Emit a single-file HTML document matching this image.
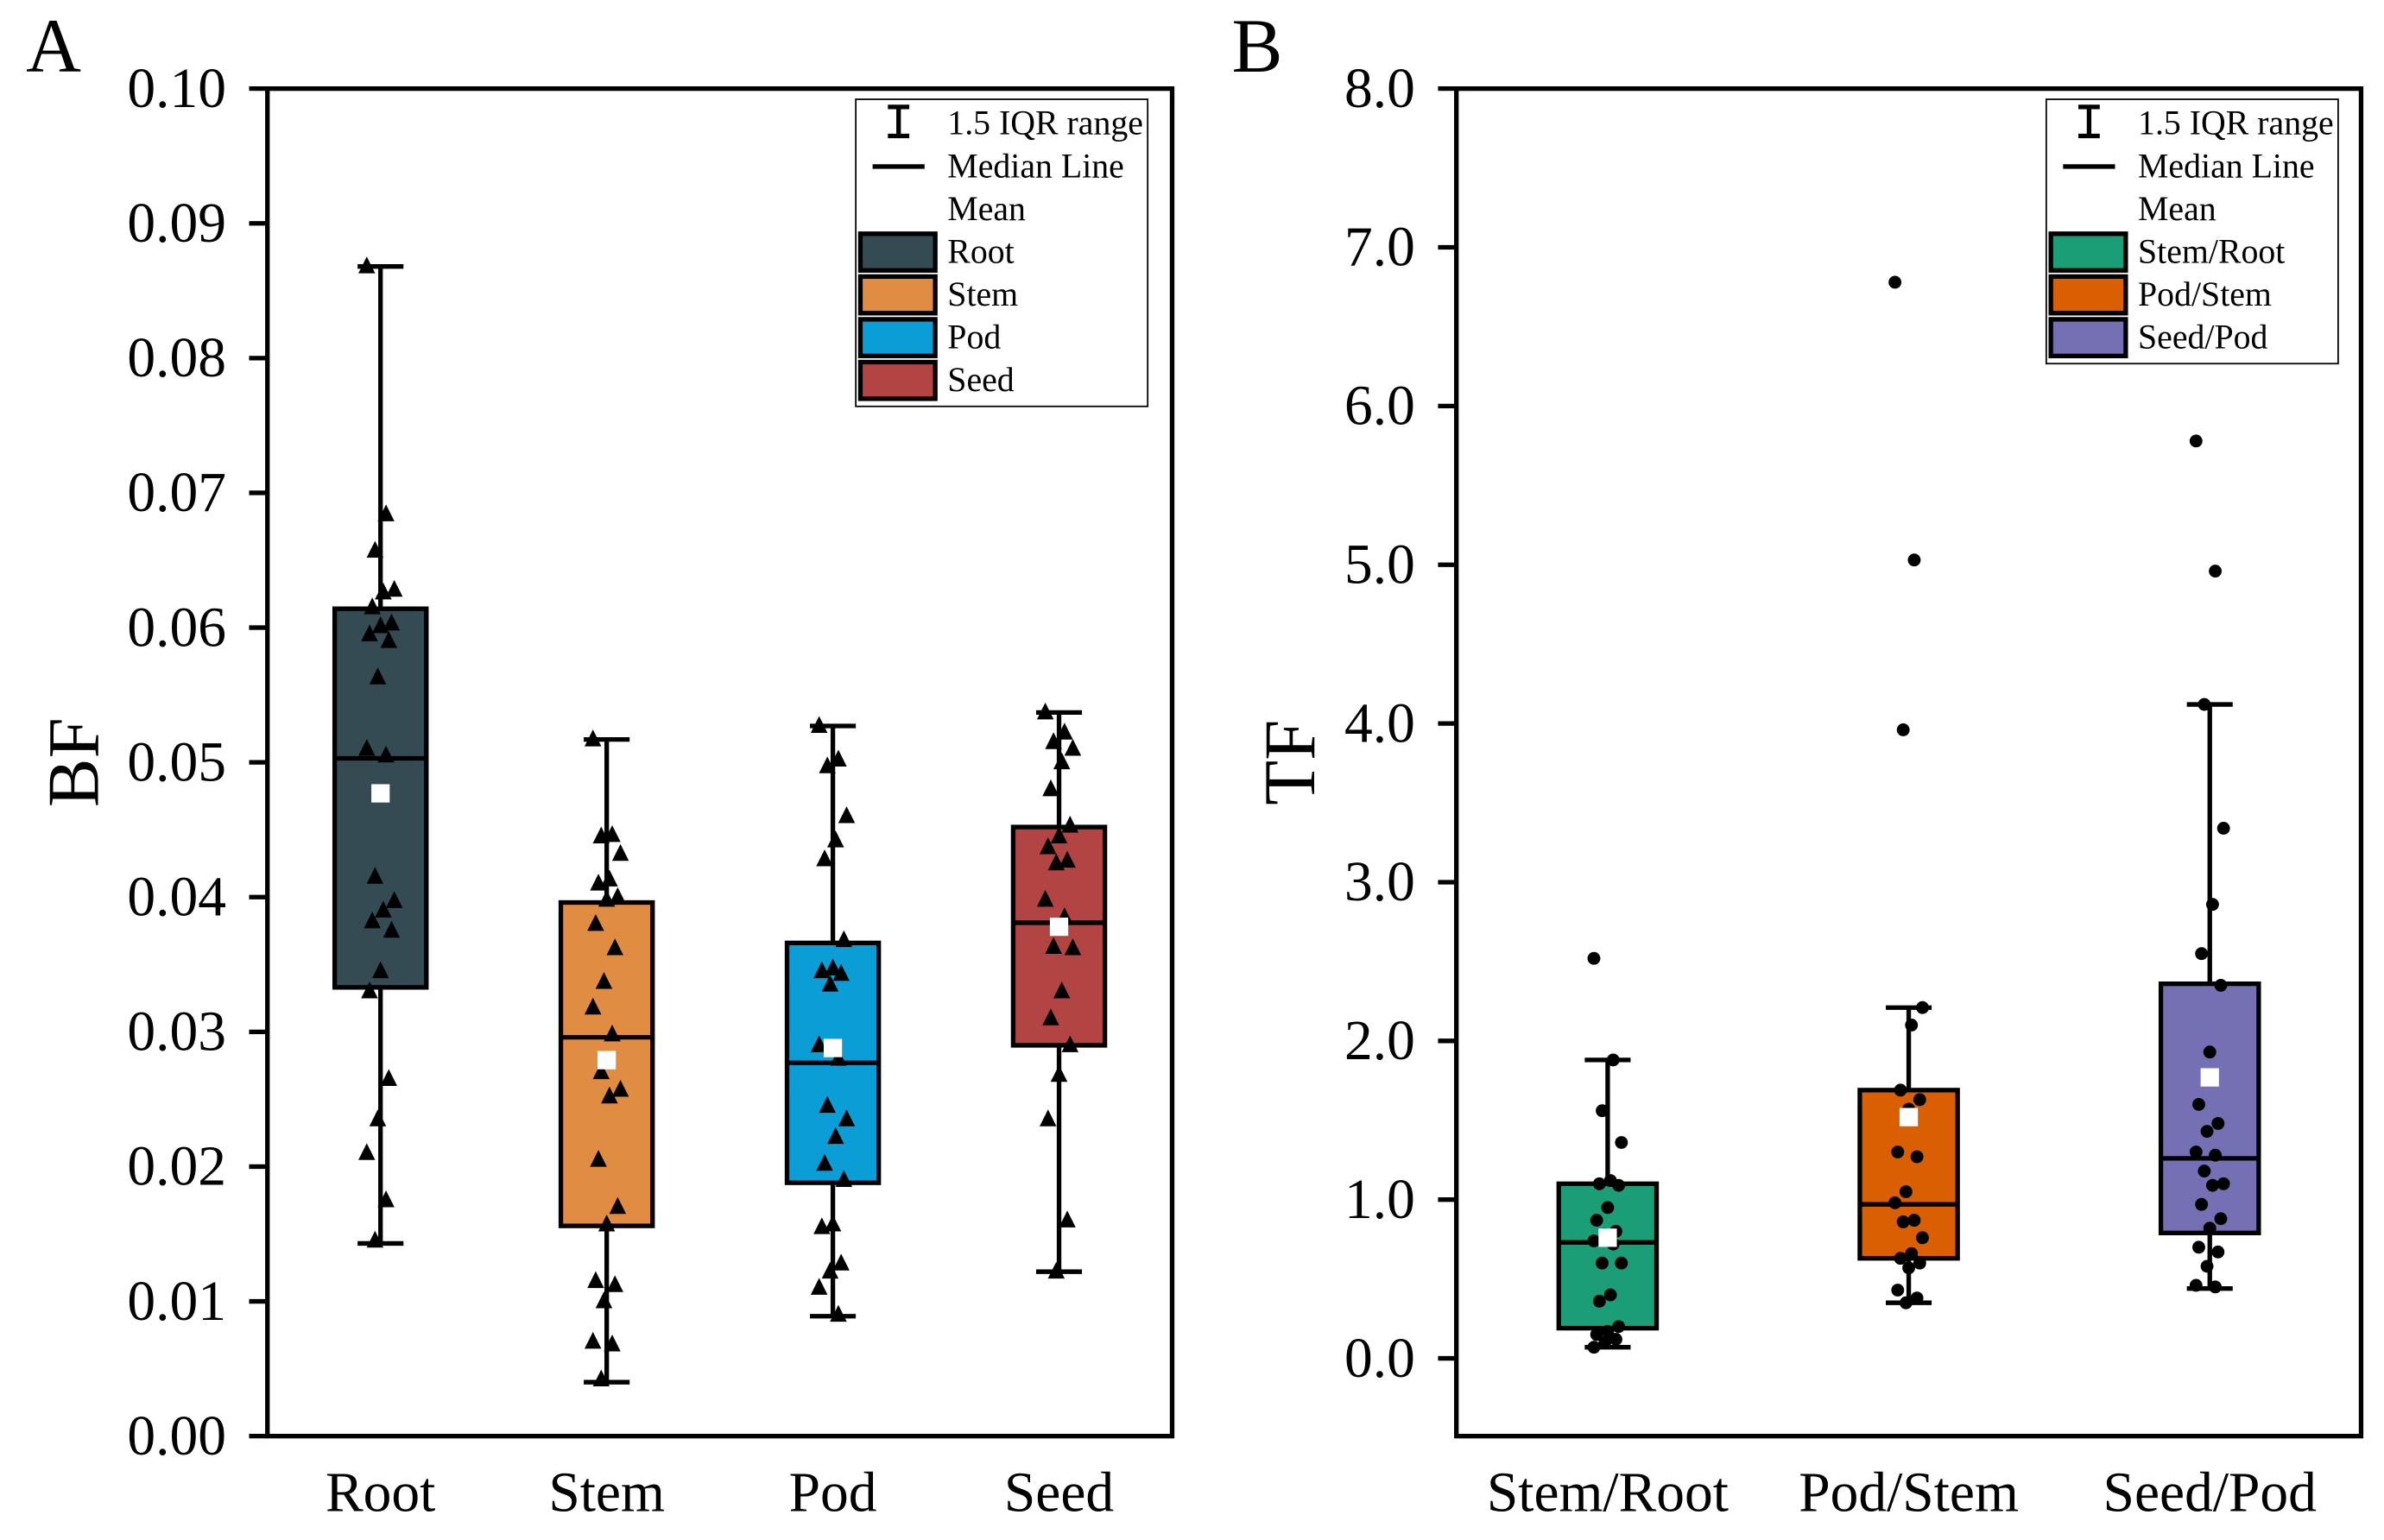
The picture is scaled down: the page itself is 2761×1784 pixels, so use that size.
<!DOCTYPE html>
<html><head><meta charset="utf-8"><style>
html,body{margin:0;padding:0;background:#fff}
svg{display:block}
text{font-family:"Liberation Serif",serif;fill:#000}
</style></head><body>
<svg id="fig" width="2761" height="1784" viewBox="0 0 1560 1008" preserveAspectRatio="none" xmlns="http://www.w3.org/2000/svg">
<rect width="1560" height="1008" fill="#fff"/>
</svg>
<script>
// Panel A data (BF)
const catsA = ["Root","Stem","Pod","Seed"];
const colorsA = ["#344b53","#e08c43","#0a9dd6","#b24443"];
const q1A = [0.0333,0.0156,0.0188,0.0290];
const medA = [0.0503,0.0296,0.0277,0.0381];
const q3A = [0.0614,0.0396,0.0366,0.0452];
const loA = [0.0143,0.0040,0.0089,0.0122];
const hiA = [0.0868,0.0517,0.0527,0.0537];
const meanA = [0.0477,0.0279,0.0288,0.0378];
const ptsRoot = [0.0868,0.0684,0.0657,0.0628,0.0626,0.0615,0.0603,0.0601,0.0595,0.0590,0.0563,0.0510,0.0505,0.0415,0.0397,0.0390,0.0382,0.0375,0.0345,0.0330,0.0265,0.0235,0.0210,0.0175,0.0145];
const ptsStem = [0.0517,0.0446,0.0445,0.0432,0.0413,0.0410,0.0400,0.0398,0.0380,0.0362,0.0337,0.0318,0.0298,0.0270,0.0257,0.0252,0.0205,0.0170,0.0157,0.0115,0.0112,0.0100,0.0070,0.0068,0.0042];
const ptsPod = [0.0527,0.0502,0.0497,0.0460,0.0442,0.0428,0.0368,0.0347,0.0345,0.0343,0.0335,0.0290,0.0280,0.0245,0.0235,0.0222,0.0202,0.0190,0.0157,0.0155,0.0128,0.0122,0.0110,0.0090];
const ptsSeed = [0.0537,0.0522,0.0515,0.0510,0.0500,0.0480,0.0453,0.0445,0.0437,0.0427,0.0425,0.0398,0.0385,0.0363,0.0362,0.0330,0.0310,0.0290,0.0268,0.0235,0.0160,0.0122];
const ticksA = ["0.00","0.01","0.02","0.03","0.04","0.05","0.06","0.07","0.08","0.09","0.10"];
// Panel B data (TF)
const catsB = ["Stem/Root","Pod/Stem","Seed/Pod"];
const colorsB = ["#1b9e77","#d95f02","#7570b3"];
const q1B = [0.19,0.63,0.79];
const medB = [0.73,0.97,1.26];
const q3B = [1.10,1.69,2.36];
const loB = [0.07,0.35,0.44];
const hiB = [1.88,2.21,4.12];
const meanB = [0.76,1.52,1.77];
const ptsSR = [2.52,1.88,1.56,1.36,1.12,1.10,1.09,0.95,0.87,0.80,0.78,0.74,0.72,0.60,0.60,0.40,0.36,0.20,0.17,0.15,0.12,0.10,0.07];
const ptsPS = [6.78,5.03,3.96,2.21,2.10,1.69,1.63,1.57,1.30,1.27,1.05,0.98,0.87,0.86,0.76,0.66,0.63,0.60,0.57,0.43,0.38,0.35];
const ptsSP = [5.78,4.96,4.12,3.34,2.86,2.55,2.35,1.93,1.60,1.48,1.43,1.30,1.28,1.18,1.10,1.09,0.97,0.88,0.82,0.70,0.67,0.58,0.46,0.45];
const ticksB = ["0.0","1.0","2.0","3.0","4.0","5.0","6.0","7.0","8.0"];

const NS="http://www.w3.org/2000/svg";
const svg=document.getElementById('fig');
function mk(tag,attrs,parent){const e=document.createElementNS(NS,tag);for(const k in attrs)e.setAttribute(k,attrs[k]);(parent||svg).appendChild(e);return e;}
function txt(s,attrs,parent){const e=mk('text',attrs,parent);e.textContent=s;return e;}
const SW=3;
function panel(o){
  const g=mk('g',{});
  
  
  const y=v=>o.y0+(o.ymax-v)/(o.ymax-o.ymin)*(o.y1-o.y0);
  const x=i=>o.xc0+i*o.dx;
  const fr=mk('rect',{x:o.x0,y:o.y0,width:o.x1-o.x0,height:o.y1-o.y0,fill:'none',stroke:'#000','stroke-width':SW},g);
  
  
  o.ticks.forEach(t=>{const v=parseFloat(t),yy=y(v);
    mk('line',{x1:o.x0-12,x2:o.x0,y1:yy,y2:yy,stroke:'#000','stroke-width':SW},g);
    const tl=txt(t,{x:o.x0-27,y:yy+12,'font-size':37,'text-anchor':'end'},g);
    
    
  });
  const yl=txt(o.ylabel,{x:0,y:0,'font-size':48,'text-anchor':'middle',transform:`translate(${o.ylx},${(o.y0+o.y1)/2}) rotate(-90)`},g);
  
  
  const pl=txt(o.letter,{x:o.lx,y:47,'font-size':50},g);
  
  
  o.cats.forEach((c,i)=>{
    const cx=x(i),hw=o.bw/2;
    const cl=txt(c,{x:cx,y:989,'font-size':37,'text-anchor':'middle'},g);
    
    
    const bg=mk('g',{},g);
    
    
    mk('line',{x1:cx,x2:cx,y1:y(o.hi[i]),y2:y(o.lo[i]),stroke:'#000','stroke-width':SW},bg);
    mk('line',{x1:cx-15,x2:cx+15,y1:y(o.hi[i]),y2:y(o.hi[i]),stroke:'#000','stroke-width':SW},bg);
    mk('line',{x1:cx-15,x2:cx+15,y1:y(o.lo[i]),y2:y(o.lo[i]),stroke:'#000','stroke-width':SW},bg);
    mk('rect',{x:cx-hw,y:y(o.q3[i]),width:o.bw,height:y(o.q1[i])-y(o.q3[i]),fill:o.colors[i],stroke:'#000','stroke-width':SW},bg);
    mk('line',{x1:cx-hw,x2:cx+hw,y1:y(o.med[i]),y2:y(o.med[i]),stroke:'#000','stroke-width':SW},bg);
    o.pts[i].forEach((v,j)=>{
      const jx=cx+(((j*7)%11)-5)*1.8;const yy=y(v);
      let p;
      if(o.tri) p=mk('polygon',{points:`${jx-5.5},${yy+4.5} ${jx+5.5},${yy+4.5} ${jx},${yy-6.5}`,fill:'#000'},bg);
      else p=mk('circle',{cx:jx,cy:yy,r:4.2,fill:'#000'},bg);
      
      
    });
    const m=mk('rect',{x:cx-6,y:y(o.mean[i])-6,width:12,height:12,fill:'#fff'},bg);
    
    
  });
  const L=o.leg, lg=mk('g',{},g);
  
  
  const rows=3+o.cats.length;
  mk('rect',{x:L.x,y:L.y,width:191,height:rows*28+5,fill:'#fff',stroke:'#000','stroke-width':1},lg);
  const ix=L.x+28;
  mk('line',{x1:ix,x2:ix,y1:L.y+5,y2:L.y+24,stroke:'#000','stroke-width':SW},lg);
  mk('line',{x1:ix-7,x2:ix+7,y1:L.y+5,y2:L.y+5,stroke:'#000','stroke-width':SW},lg);
  mk('line',{x1:ix-7,x2:ix+7,y1:L.y+24,y2:L.y+24,stroke:'#000','stroke-width':SW},lg);
  mk('line',{x1:ix-17,x2:ix+17,y1:L.y+44,y2:L.y+44,stroke:'#000','stroke-width':SW},lg);
  const labels=["1.5 IQR range","Median Line","Mean"].concat(o.cats);
  labels.forEach((s,k)=>{
    const e=txt(s,{x:L.x+60,y:L.y+23+k*28,'font-size':22.5},lg);
    
    
  });
  o.cats.forEach((c,i)=>{
    mk('rect',{x:L.x+3,y:L.y+88+i*28,width:49,height:24,fill:o.colors[i],stroke:'#000','stroke-width':SW},lg);
  });
}
panel({name:'panel-a-bf',letter:'A',lx:17,ylabel:'BF',ylx:64,x0:175,x1:767,y0:58,y1:940,ymin:0,ymax:0.10,
  ticks:ticksA,cats:catsA,colors:colorsA,q1:q1A,med:medA,q3:q3A,lo:loA,hi:hiA,mean:meanA,
  pts:[ptsRoot,ptsStem,ptsPod,ptsSeed],tri:true,xc0:249,dx:148,bw:60,leg:{x:560,y:65}});
panel({name:'panel-b-tf',letter:'B',lx:806,ylabel:'TF',ylx:860,x0:953,x1:1545,y0:58,y1:940,ymin:-0.49,ymax:8.0,
  ticks:ticksB,cats:catsB,colors:colorsB,q1:q1B,med:medB,q3:q3B,lo:loB,hi:hiB,mean:meanB,
  pts:[ptsSR,ptsPS,ptsSP],tri:false,xc0:1052,dx:197,bw:64,leg:{x:1339,y:65}});
</script>
</body></html>
